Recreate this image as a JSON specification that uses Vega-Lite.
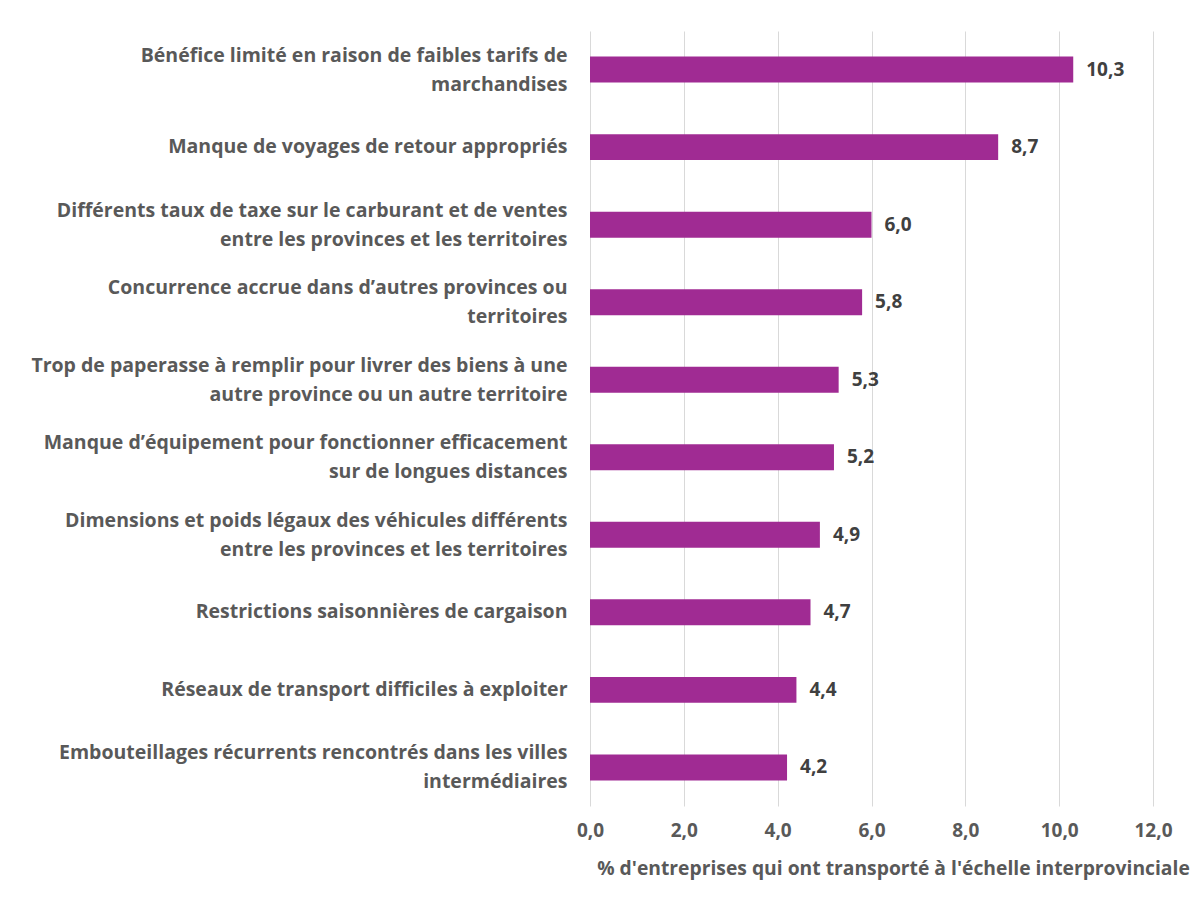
{
  "$schema": "https://vega.github.io/schema/vega-lite/v6.json",
  "autosize": "none",
  "width": 563,
  "height": 775,
  "padding": {"left": 590, "top": 31, "right": 43, "bottom": 100},
  "background": "white",
  "config": {
    "locale": {"number": {"decimal": ",", "thousands": " ", "grouping": [3], "currency": ["", " $"]}},
    "view": {"stroke": null},
    "font": "Open Sans"
  },
  "data": {
    "values": [
      {"label": "Bénéfice limité en raison de faibles tarifs de|marchandises", "value": 10.3},
      {"label": "Manque de voyages de retour appropriés", "value": 8.7},
      {"label": "Différents taux de taxe sur le carburant et de ventes|entre les provinces et les territoires", "value": 6.0},
      {"label": "Concurrence accrue dans d’autres provinces ou|territoires", "value": 5.8},
      {"label": "Trop de paperasse à remplir pour livrer des biens à une|autre province ou un autre territoire", "value": 5.3},
      {"label": "Manque d’équipement pour fonctionner efficacement|sur de longues distances", "value": 5.2},
      {"label": "Dimensions et poids légaux des véhicules différents|entre les provinces et les territoires", "value": 4.9},
      {"label": "Restrictions saisonnières de cargaison", "value": 4.7},
      {"label": "Réseaux de transport difficiles à exploiter", "value": 4.4},
      {"label": "Embouteillages récurrents rencontrés dans les villes|intermédiaires", "value": 4.2}
    ]
  },
  "encoding": {
    "y": {
      "field": "label",
      "type": "nominal",
      "sort": null,
      "scale": {"paddingInner": 0.665, "paddingOuter": 0.33},
      "axis": {
        "title": null,
        "domain": false,
        "ticks": false,
        "labelPadding": 23,
        "labelExpr": "split(datum.value, '|')",
        "labelOffset": {"condition": {"test": "indexof(datum.value, '|') >= 0", "value": -14}, "value": 0},
        "labelFont": "Open Sans",
        "labelFontSize": 19.5,
        "labelFontWeight": "bold",
        "labelColor": "#595959",
        "labelLineHeight": 29,
        "labelLimit": 600
      }
    },
    "x": {
      "field": "value",
      "type": "quantitative",
      "scale": {"domain": [0, 12], "nice": false},
      "axis": {
        "title": "% d'entreprises qui ont transporté à l'échelle interprovinciale",
        "values": [0, 2, 4, 6, 8, 10, 12],
        "format": ".1f",
        "domain": false,
        "ticks": false,
        "grid": true,
        "gridColor": "#d9d9d9",
        "gridWidth": 1,
        "labelFlush": false,
        "labelPadding": 15,
        "labelFont": "Open Sans",
        "labelFontSize": 19,
        "labelFontWeight": "bold",
        "labelColor": "#595959",
        "titleFont": "Open Sans",
        "titleFontSize": 19.3,
        "titleFontWeight": "bold",
        "titleColor": "#595959",
        "titlePadding": 19,
        "titleX": 303
      }
    }
  },
  "layer": [
    {"mark": {"type": "bar", "color": "#A02B93"}},
    {
      "mark": {"type": "text", "align": "left", "baseline": "middle", "dx": 13, "font": "Open Sans", "fontSize": 19, "fontWeight": "bold", "color": "#404040"},
      "encoding": {"text": {"field": "value", "type": "quantitative", "format": ".1f"}}
    }
  ]
}
